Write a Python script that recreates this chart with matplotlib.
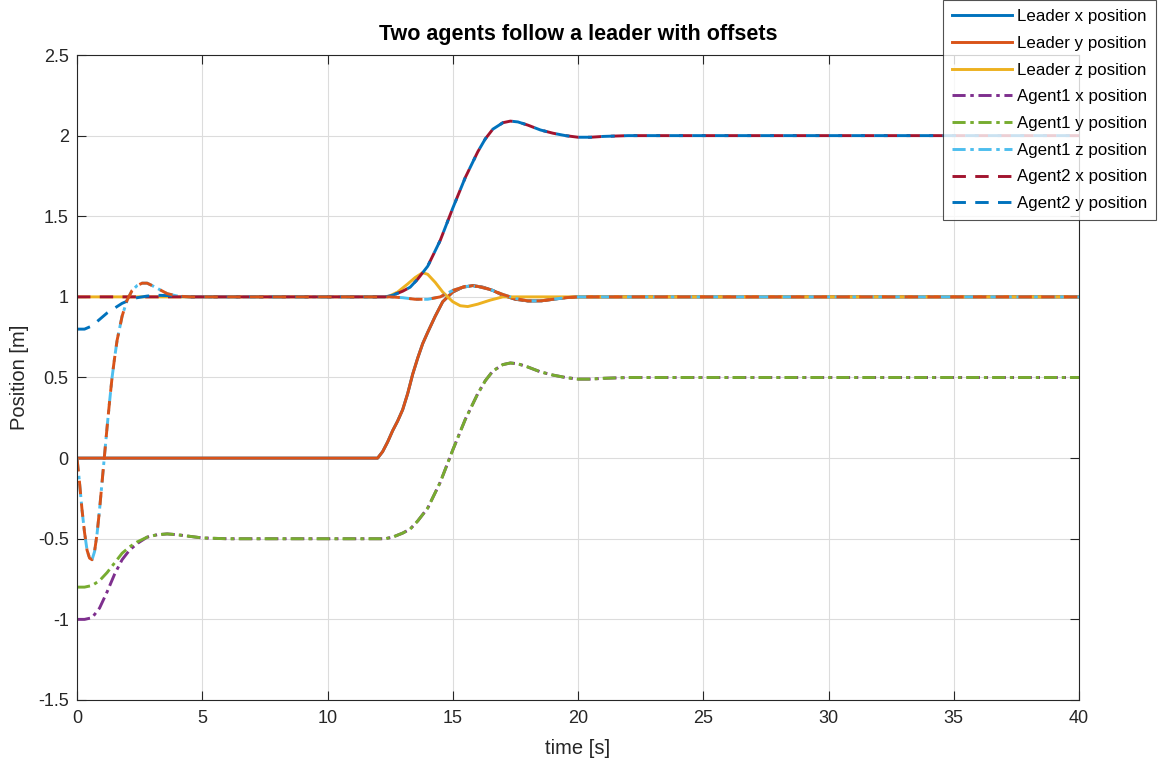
import matplotlib
matplotlib.use("Agg")
import matplotlib.pyplot as plt

plt.rcParams['font.family'] = ['Liberation Sans', 'DejaVu Sans']

# ---------------- data ----------------
leader_t = [0, 12, 12.2, 12.4, 12.6, 12.8, 13.0, 13.2, 13.4, 13.6, 13.8, 14.0, 14.3, 14.6,
            15.0, 15.4, 15.8, 16.2, 16.6, 17.0, 17.5, 18.0, 18.5, 19.0, 19.5, 20.0, 40]
leader_x = [0, 0, 0.04, 0.10, 0.17, 0.23, 0.30, 0.40, 0.52, 0.62, 0.71, 0.78, 0.88, 0.97,
            1.03, 1.06, 1.07, 1.06, 1.04, 1.01, 0.985, 0.975, 0.975, 0.985, 0.995, 1.0, 1.0]
leader_y = [0, 0, 0.04, 0.10, 0.17, 0.23, 0.30, 0.40, 0.52, 0.62, 0.71, 0.78, 0.88, 0.97,
            1.03, 1.06, 1.07, 1.06, 1.04, 1.01, 0.985, 0.975, 0.975, 0.985, 0.995, 1.0, 1.0]

leader_z_t = [0, 12.4, 12.8, 13.2, 13.5, 13.8, 14.0, 14.3, 14.6, 15.0, 15.3, 15.6, 16.0, 16.5, 17.0, 40]
leader_z = [1, 1, 1.03, 1.08, 1.12, 1.15, 1.14, 1.09, 1.03, 0.97, 0.945, 0.94, 0.955, 0.98, 1.0, 1.0]

agent_t = [0, 0.3, 0.6, 0.9, 1.2, 1.5, 1.8, 2.1, 2.4, 2.8, 3.2, 3.6, 4.0, 4.5, 5.0, 6.0,
           12.3, 12.6, 13.0, 13.3, 13.6, 14.0, 14.5, 15.0, 15.5, 16.0, 16.3, 16.6, 17.0, 17.3, 17.6,
           18.0, 18.5, 19.0, 19.5, 20.0, 20.5, 21.0, 22.0, 40]
agent1_x = [-1.0, -1.0, -0.99, -0.93, -0.83, -0.72, -0.63, -0.57, -0.53, -0.49, -0.475, -0.47,
            -0.475, -0.485, -0.495, -0.5,
            -0.5, -0.49, -0.465, -0.44, -0.39, -0.31, -0.15, 0.05, 0.24, 0.40, 0.48, 0.54, 0.58, 0.59, 0.585,
            0.565, 0.535, 0.515, 0.5, 0.49, 0.49, 0.495, 0.5, 0.5]
agent1_y = [-0.8, -0.8, -0.79, -0.76, -0.71, -0.65, -0.59, -0.55, -0.52, -0.49, -0.475, -0.47,
            -0.475, -0.485, -0.495, -0.5,
            -0.5, -0.49, -0.465, -0.44, -0.39, -0.31, -0.15, 0.05, 0.24, 0.40, 0.48, 0.54, 0.58, 0.59, 0.585,
            0.565, 0.535, 0.515, 0.5, 0.49, 0.49, 0.495, 0.5, 0.5]
agent2_x = [1.0, 1.0, 1.0, 1.0, 1.0, 1.0, 1.0, 1.0, 1.0, 1.0, 1.0, 1.0, 1.0, 1.0, 1.0, 1.0,
            1.0, 1.01, 1.035, 1.06, 1.11, 1.19, 1.35, 1.55, 1.74, 1.90, 1.98, 2.04, 2.08, 2.09, 2.085,
            2.065, 2.035, 2.015, 2.0, 1.99, 1.99, 1.995, 2.0, 2.0]
agent2_y = [0.8, 0.8, 0.82, 0.86, 0.9, 0.93, 0.96, 0.98, 0.995, 1.005, 1.01, 1.008, 1.003, 1.0, 1.0, 1.0,
            1.0, 1.01, 1.035, 1.06, 1.11, 1.19, 1.35, 1.55, 1.74, 1.90, 1.98, 2.04, 2.08, 2.09, 2.085,
            2.065, 2.035, 2.015, 2.0, 1.99, 1.99, 1.995, 2.0, 2.0]

agent_z_t = [0, 0.1, 0.2, 0.3, 0.4, 0.5, 0.6, 0.7, 0.8, 0.9, 1.0, 1.1, 1.2, 1.3, 1.4, 1.5, 1.6,
             1.8, 2.0, 2.2, 2.4, 2.6, 2.8, 3.0, 3.3, 3.6, 4.0, 4.5, 5, 6, 12, 12.5, 13, 13.5,
             14, 14.5, 15, 15.5, 16, 16.5, 17, 17.5, 18, 18.5, 19, 19.5, 20, 21, 22, 40]
agent1_z = [0, -0.15, -0.32, -0.46, -0.57, -0.62, -0.63, -0.58, -0.47, -0.32, -0.15, 0.02, 0.19,
            0.35, 0.5, 0.62, 0.73, 0.88, 0.98, 1.04, 1.07, 1.085, 1.085, 1.07, 1.045, 1.02, 1.005,
            1.0, 1.0, 1.0, 1.0, 1.0, 0.995, 0.985, 0.985, 1.0, 1.04, 1.065, 1.065, 1.045, 1.015,
            0.99, 0.975, 0.975, 0.985, 0.995, 1.0, 1.0, 1.0, 1.0]
agent2_z = [0, -0.15, -0.32, -0.46, -0.57, -0.62, -0.63, -0.58, -0.47, -0.32, -0.15, 0.02, 0.19,
            0.35, 0.5, 0.62, 0.73, 0.88, 0.98, 1.04, 1.07, 1.085, 1.085, 1.07, 1.045, 1.02, 1.005,
            1.0, 1.0, 1.0, 1.0, 1.0, 0.995, 0.985, 0.985, 1.0, 1.04, 1.065, 1.065, 1.045, 1.015,
            0.99, 0.975, 0.975, 0.985, 0.995, 1.0, 1.0, 1.0, 1.0]

labels = ['Leader x position', 'Leader y position', 'Leader z position',
          'Agent1 x position', 'Agent1 y position', 'Agent1 z position',
          'Agent2 x position', 'Agent2 y position']
x_ticks = [0, 5, 10, 15, 20, 25, 30, 35, 40]
y_ticks = [-1.5, -1, -0.5, 0, 0.5, 1, 1.5, 2, 2.5]
y_ticklabels = ['-1.5', '-1', '-0.5', '0', '0.5', '1', '1.5', '2', '2.5']

# ---------------- style ----------------
C = ['#0072BD', '#D95319', '#EDB120', '#7E2F8E', '#77AC30', '#4DBEEE', '#A2142F']
axc = '#262626'
lw = 2.1
dashdot = (0, (4.5, 1.6, 1.2, 1.6))
dashed = (0, (4.6, 3.2))

fig = plt.figure(figsize=(11.66, 7.67), dpi=100)
ax = fig.add_axes([77/1166, 1-700/767, (1079-77)/1166, (700-55)/767])

h = []
h += ax.plot(leader_t, leader_x, color=C[0], lw=lw, ls='-')
h += ax.plot(leader_t, leader_y, color=C[1], lw=lw, ls='-')
h += ax.plot(leader_z_t, leader_z, color=C[2], lw=lw, ls='-')
h += ax.plot(agent_t, agent1_x, color=C[3], lw=lw, ls=dashdot)
h += ax.plot(agent_t, agent1_y, color=C[4], lw=lw, ls=dashdot)
h += ax.plot(agent_z_t, agent1_z, color=C[5], lw=lw, ls=dashdot)
h += ax.plot(agent_t, agent2_x, color=C[6], lw=lw, ls=dashed)
h += ax.plot(agent_t, agent2_y, color=C[0], lw=lw, ls=dashed)
ax.plot(agent_z_t, agent2_z, color=C[1], lw=lw, ls=dashed)

ax.set_xlim(0, 40)
ax.set_ylim(-1.5, 2.5)
ax.set_xticks(x_ticks)
ax.set_xticklabels([str(v) for v in x_ticks])
ax.set_yticks(y_ticks)
ax.set_yticklabels(y_ticklabels)
ax.grid(True, color='#dcdcdc', lw=0.8)
ax.set_axisbelow(True)
ax.tick_params(direction='in', length=6.5, width=0.8, colors=axc, labelsize=13,
               top=True, right=True)
ax.tick_params(axis='x', pad=7)
ax.tick_params(axis='y', pad=6)
for s in ax.spines.values():
    s.set_color(axc)
    s.set_linewidth(0.8)

ax.set_title('Two agents follow a leader with offsets', fontsize=15.5, fontweight='bold',
             color='black', pad=11)
ax.set_xlabel('time [s]', fontsize=14.5, color=axc, labelpad=8.5)
ax.set_ylabel('Position [m]', fontsize=14.5, color=axc, labelpad=6)

leg = fig.legend(h, labels, loc='upper left', bbox_to_anchor=(943/1166, 1.0),
                 fontsize=12.2, frameon=True, fancybox=False, handlelength=3.5,
                 labelspacing=0.69, borderpad=0.55, handletextpad=0.3, borderaxespad=0)
leg.get_frame().set_edgecolor(axc)
leg.get_frame().set_linewidth(0.8)

fig.savefig('out.png', dpi=100)
